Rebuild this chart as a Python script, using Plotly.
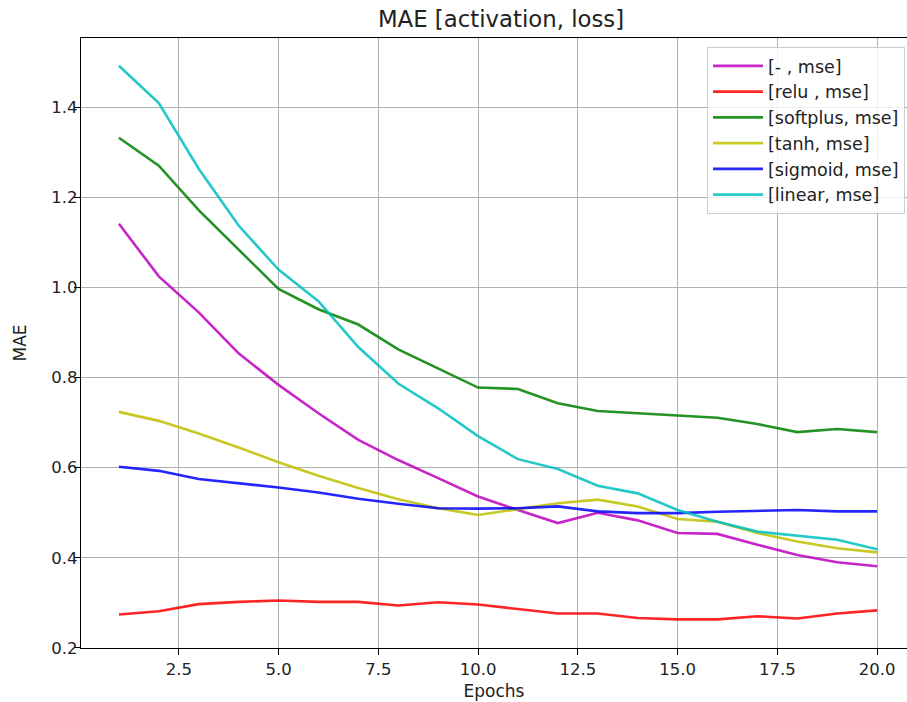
import plotly.graph_objects as go

epochs = list(range(1, 21))

mae_none_mse = [1.142, 1.025, 0.945, 0.854, 0.784, 0.721, 0.662, 0.617, 0.577, 0.536,
                0.506, 0.477, 0.500, 0.483, 0.455, 0.453, 0.429, 0.406, 0.390, 0.381]
mae_relu_mse = [0.274, 0.281, 0.297, 0.302, 0.305, 0.302, 0.302, 0.294, 0.301, 0.296,
                0.286, 0.276, 0.276, 0.266, 0.263, 0.263, 0.270, 0.265, 0.276, 0.283]
mae_softplus_mse = [1.333, 1.271, 1.172, 1.085, 0.997, 0.952, 0.918, 0.863, 0.820, 0.778,
                    0.775, 0.743, 0.726, 0.721, 0.715, 0.711, 0.697, 0.679, 0.686, 0.679]
mae_tanh_mse = [0.724, 0.704, 0.676, 0.645, 0.612, 0.582, 0.555, 0.530, 0.510, 0.495,
                0.508, 0.521, 0.529, 0.514, 0.486, 0.480, 0.455, 0.436, 0.421, 0.412]
mae_sigmoid_mse = [0.602, 0.593, 0.575, 0.566, 0.556, 0.545, 0.531, 0.520, 0.510, 0.509,
                   0.510, 0.514, 0.503, 0.499, 0.499, 0.502, 0.504, 0.506, 0.503, 0.503]
mae_linear_mse = [1.493, 1.410, 1.264, 1.138, 1.040, 0.970, 0.868, 0.787, 0.732, 0.670,
                  0.619, 0.597, 0.560, 0.543, 0.506, 0.480, 0.458, 0.449, 0.440, 0.419]

series_names = ["[- , mse]", "[relu , mse]", "[softplus, mse]",
                "[tanh, mse]", "[sigmoid, mse]", "[linear, mse]"]
series_values = [mae_none_mse, mae_relu_mse, mae_softplus_mse,
                 mae_tanh_mse, mae_sigmoid_mse, mae_linear_mse]
series_colors = ["#BF00BF", "#FF0000", "#008000", "#BFBF00", "#0000FF", "#00BFBF"]

x_tick_vals = [2.5, 5.0, 7.5, 10.0, 12.5, 15.0, 17.5, 20.0]
x_tick_text = ["2.5", "5.0", "7.5", "10.0", "12.5", "15.0", "17.5", "20.0"]
y_tick_vals = [0.2, 0.4, 0.6, 0.8, 1.0, 1.2, 1.4]
y_tick_text = ["0.2", "0.4", "0.6", "0.8", "1.0", "1.2", "1.4"]

FONT = "DejaVu Sans"
W, H = 907, 702
L, T, B = 81, 38, 54

fig = go.Figure()
for name, vals, col in zip(series_names, series_values, series_colors):
    fig.add_trace(go.Scatter(x=epochs, y=vals, mode="lines", name=name,
                             line=dict(color=col, width=2.6), opacity=0.85))

fig.update_layout(
    width=W, height=H,
    margin=dict(l=L, r=0, t=T, b=B, pad=0, autoexpand=False),
    paper_bgcolor="white", plot_bgcolor="white",
    font=dict(family=FONT, size=16.5, color="#222222"),
    title=dict(text="MAE [activation, loss]", x=501 / W, xref="container", xanchor="center",
               y=1 - 19 / H, yref="container", yanchor="middle",
               font=dict(family=FONT, size=22.8, color="#222222")),
    showlegend=True,
    legend=dict(x=(905 - L) / (W - L), xanchor="right", y=1 - 9 / (H - T - B), yanchor="top",
                bgcolor="rgba(255,255,255,0.8)", bordercolor="#cccccc", borderwidth=1,
                font=dict(family=FONT, size=17.5, color="#222222"),
                itemwidth=50, tracegroupgap=0),
)

fig.update_xaxes(range=[0.05, 20.75], tickmode="array", tickvals=x_tick_vals, ticktext=x_tick_text,
                 showgrid=True, gridcolor="#b0b0b0", gridwidth=1.4,
                 showline=True, linecolor="black", linewidth=1.4, mirror=True,
                 ticks="outside", ticklen=6, tickwidth=1.2, tickcolor="black",
                 zeroline=False, automargin=False,
                 title=dict(text="Epochs", standoff=7, font=dict(family=FONT, size=17)))
fig.update_yaxes(range=[0.1995, 1.5545], tickmode="array", tickvals=y_tick_vals, ticktext=y_tick_text,
                 showgrid=True, gridcolor="#b0b0b0", gridwidth=1.4,
                 showline=True, linecolor="black", linewidth=1.4, mirror=False,
                 ticks="outside", ticklen=6, tickwidth=1.2, tickcolor="black",
                 ticklabelstandoff=-7,
                 zeroline=False, automargin=False,
                 title=dict(text="MAE", standoff=20, font=dict(family=FONT, size=17)))

fig.write_html("out.html", config={"displayModeBar": False},
               post_script="document.body.style.margin='0px';document.body.style.overflow='hidden';")
